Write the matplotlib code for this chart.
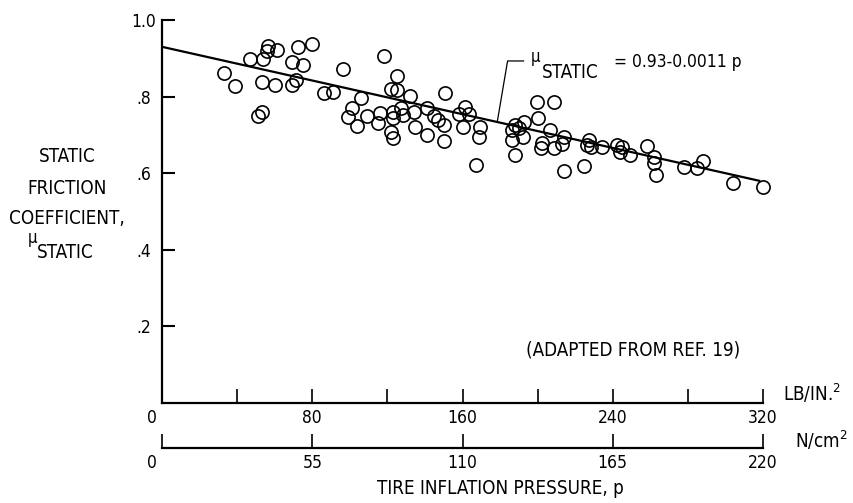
import numpy as np
import matplotlib
matplotlib.use("Agg")
import matplotlib.pyplot as plt
from matplotlib.transforms import ScaledTranslation

plt.rcParams["font.family"] = "DejaVu Sans"
plt.rcParams["font.stretch"] = "condensed"

# tire inflation pressure, lb/in^2
pressure = [33, 39, 47, 54, 56.5, 56, 61, 53, 60, 51, 53, 69, 71.5, 69, 72.5, 75, 80,
            86, 91, 96.5, 106, 101, 99, 104, 109, 118, 125, 122, 125, 116, 115, 123,
            123, 122, 123, 127.5, 128.5, 132, 134, 134.5, 141, 141, 145, 147, 150, 150,
            150.5, 158, 161.5, 163.5, 160.5, 169.5, 169, 167, 188, 186.5, 190, 193,
            186.5, 192, 188, 199.5, 208.5, 200, 206.5, 202.5, 202, 208.5, 214, 213,
            214, 224.5, 227.5, 226.5, 228.5, 234.5, 242.5, 245, 244, 249, 258, 262,
            262, 263, 278, 285, 288, 304, 320]
# static friction coefficient
mu = [0.862, 0.828, 0.898, 0.898, 0.932, 0.919, 0.922, 0.838, 0.830, 0.749, 0.760,
      0.830, 0.844, 0.890, 0.930, 0.883, 0.937, 0.809, 0.812, 0.872, 0.796, 0.770,
      0.747, 0.723, 0.749, 0.906, 0.854, 0.820, 0.817, 0.757, 0.731, 0.760, 0.744,
      0.708, 0.692, 0.770, 0.752, 0.801, 0.760, 0.721, 0.770, 0.700, 0.749, 0.739,
      0.726, 0.684, 0.809, 0.755, 0.773, 0.755, 0.721, 0.721, 0.695, 0.621, 0.726,
      0.713, 0.718, 0.734, 0.687, 0.695, 0.648, 0.786, 0.786, 0.744, 0.713, 0.679,
      0.666, 0.666, 0.695, 0.676, 0.606, 0.619, 0.687, 0.674, 0.668, 0.668, 0.674,
      0.668, 0.655, 0.648, 0.671, 0.642, 0.627, 0.595, 0.616, 0.614, 0.632, 0.574,
      0.564]

fit_a, fit_b = 0.93, 0.0011
lb_ticks = [0, 80, 160, 240, 320]
lb_minor = [40, 120, 200, 280]
n_ticks = [0, 55, 110, 165, 220]
y_ticks = [0.2, 0.4, 0.6, 0.8, 1.0]
y_labels = [".2", ".4", ".6", ".8", "1.0"]

W, H = 854, 503
fig = plt.figure(figsize=(W / 100, H / 100), dpi=100)
ax = fig.add_axes([162 / W, 100 / H, 601 / W, 383 / H])

ax.plot(pressure, mu, "o", mfc="none", mec="black", ms=9.5, mew=1.2, clip_on=False)
p_line = np.array([0, 318])
ax.plot(p_line, fit_a - fit_b * p_line, "k-", lw=1.6)

ax.set_xlim(0, 320)
ax.set_ylim(0, 1.0)
for s in ["top", "right"]:
    ax.spines[s].set_visible(False)
for s in ["left", "bottom"]:
    ax.spines[s].set_linewidth(1.6)

fs = 12.5   # tick labels
ft = 13.5   # other text
ax.set_xticks(lb_ticks)
ax.set_xticks(lb_minor, minor=True)
ax.tick_params(axis="x", which="both", direction="in", length=10, width=1.2,
               labelsize=fs, pad=4)
ax.set_yticks(y_ticks)
ax.set_yticklabels(y_labels)
ax.tick_params(axis="y", direction="in", length=9.5, width=1.5, labelsize=fs, pad=13)
for lab in ax.get_yticklabels():
    lab.set_ha("center")

shift = ScaledTranslation(-0.1, 0, fig.dpi_scale_trans)
lab0 = ax.get_xticklabels()[0]
lab0.set_transform(lab0.get_transform() + shift)

sec = ax.secondary_xaxis(-45 / 383, functions=(lambda x: x * 220 / 320,
                                                lambda x: x * 320 / 220))
sec.set_xticks(n_ticks)
sec.tick_params(direction="in", length=10, width=1.2, labelsize=fs, pad=4)
sec.spines["bottom"].set_linewidth(1.6)
sl0 = sec.get_xticklabels()[0]
sl0.set_transform(sl0.get_transform() + shift)

def fig_text(x, y, s, size=ft, **kw):
    fig.text(x / W, 1 - y / H, s, fontsize=size, va="center", **kw)

# y axis label
fig_text(67, 156, "STATIC", ha="center")
fig_text(67, 188, "FRICTION", ha="center")
fig_text(67, 219, "COEFFICIENT,", ha="center")
fig_text(28, 238, "\u03bc", ha="left", size=12)
fig_text(37, 252, "STATIC", ha="left")

# unit labels and x title
fig_text(783, 393, r"LB/IN.$^{2}$", ha="left")
fig_text(795, 440, r"N/cm$^{2}$", ha="left")
fig_text(500, 488, "TIRE INFLATION PRESSURE, p", ha="center")

# fit equation with leader
fig_text(531, 57, "\u03bc", ha="left", size=12)
fig_text(542, 72, "STATIC", ha="left")
fig_text(614, 62, "= 0.93-0.0011 p", ha="left", size=fs)
ax.plot([192.5, 184, 178.5], [0.893, 0.893, fit_a - fit_b * 178.5], "k-", lw=0.9)

ax.text(251, 0.138, "(ADAPTED FROM REF. 19)", ha="center", va="center", fontsize=ft)

fig.savefig("out.png", dpi=100)
